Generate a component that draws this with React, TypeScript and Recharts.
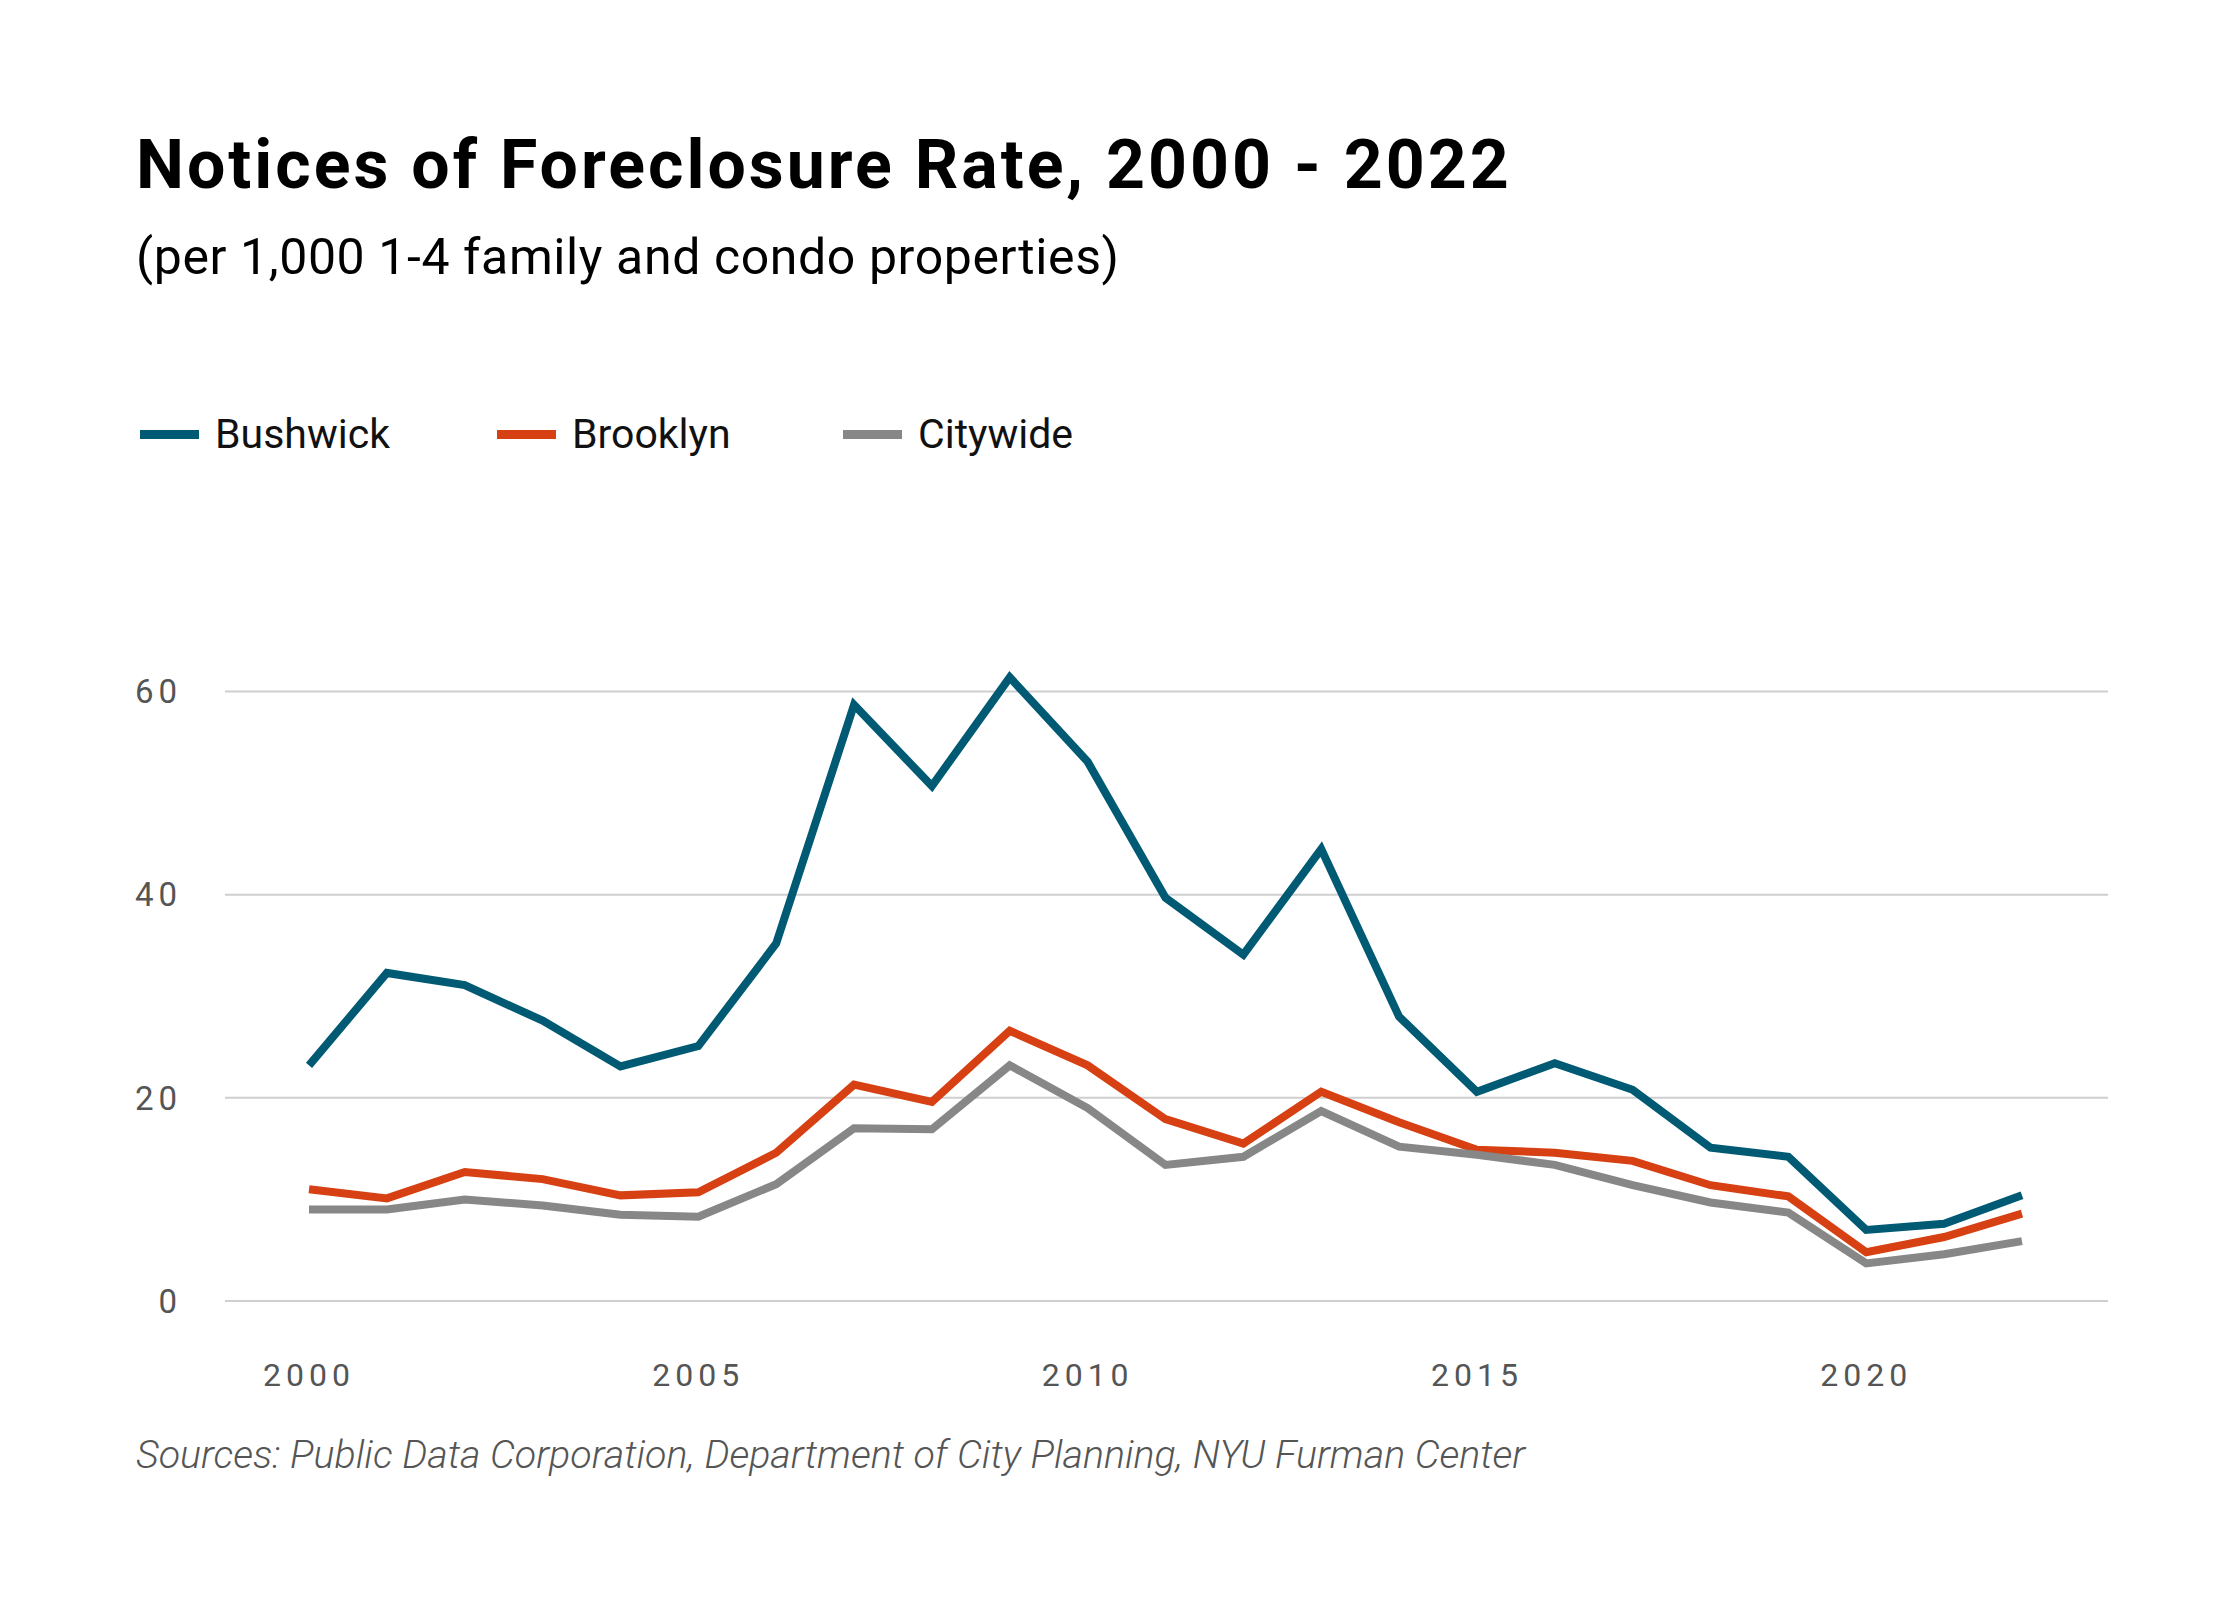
import { LineChart, Line, XAxis, YAxis, CartesianGrid } from "recharts";

const years = [
  2000, 2001, 2002, 2003, 2004, 2005, 2006, 2007, 2008, 2009, 2010, 2011,
  2012, 2013, 2014, 2015, 2016, 2017, 2018, 2019, 2020, 2021, 2022,
];
const bushwick = [
  23.2, 32.3, 31.1, 27.6, 23.1, 25.1, 35.2, 58.7, 50.7, 61.4, 53.1, 39.7,
  34.1, 44.5, 28.0, 20.6, 23.4, 20.8, 15.1, 14.2, 7.0, 7.6, 10.4,
];
const brooklyn = [
  11.0, 10.1, 12.7, 12.0, 10.4, 10.7, 14.6, 21.3, 19.6, 26.6, 23.2, 17.9,
  15.5, 20.6, 17.6, 14.9, 14.6, 13.8, 11.4, 10.3, 4.8, 6.3, 8.6,
];
const citywide = [
  9.0, 9.0, 10.0, 9.4, 8.5, 8.3, 11.5, 17.0, 16.9, 23.2, 19.0, 13.4,
  14.2, 18.7, 15.2, 14.4, 13.4, 11.4, 9.7, 8.7, 3.7, 4.6, 5.9,
];
const xTicks = [2000, 2005, 2010, 2015, 2020];
const yTicks = [0, 20, 40, 60];

const series = [
  { key: "bushwick", name: "Bushwick", color: "#005a73", left: 140 },
  { key: "brooklyn", name: "Brooklyn", color: "#d64012", left: 497 },
  { key: "citywide", name: "Citywide", color: "#878787", left: 843 },
];

const data = years.map((year, i) => ({
  year,
  bushwick: bushwick[i],
  brooklyn: brooklyn[i],
  citywide: citywide[i],
}));

const font = "Roboto, 'Noto Sans', sans-serif";

export default function App() {
  return (
    <div
      style={{
        position: "absolute",
        left: 0,
        top: 0,
        width: 2240,
        height: 1600,
        background: "#fff",
        fontFamily: font,
      }}
    >
      <div
        style={{
          position: "absolute",
          left: 136,
          top: 125,
          fontSize: 68,
          fontWeight: 700,
          letterSpacing: 3,
          color: "#000",
          whiteSpace: "nowrap",
        }}
      >
        Notices of Foreclosure Rate, 2000 - 2022
      </div>
      <div
        style={{
          position: "absolute",
          left: 136,
          top: 228,
          fontSize: 50,
          letterSpacing: 0.6,
          color: "#000",
          whiteSpace: "nowrap",
        }}
      >
        (per 1,000 1-4 family and condo properties)
      </div>
      {series.map((s) => (
        <div
          key={s.key}
          style={{
            position: "absolute",
            left: s.left,
            top: 407,
            height: 54,
            display: "flex",
            alignItems: "center",
          }}
        >
          <div
            style={{ width: 59, height: 9, background: s.color, marginRight: 16 }}
          />
          <span style={{ fontSize: 41, color: "#111", whiteSpace: "nowrap" }}>
            {s.name}
          </span>
        </div>
      ))}
      <div style={{ position: "absolute", left: 0, top: 0 }}>
        <LineChart
          width={2240}
          height={1600}
          data={data}
          margin={{ top: 590, right: 132, bottom: 0, left: 0 }}
        >
          <CartesianGrid
            vertical={false}
            horizontalValues={yTicks}
            stroke="#cfcfcf"
            strokeWidth={2}
          />
          <XAxis
            dataKey="year"
            type="number"
            domain={[1998.921, 2023.105]}
            ticks={xTicks}
            axisLine={false}
            tickLine={false}
            tickSize={0}
            tickMargin={62}
            height={299}
            tick={{ fill: "#555", fontSize: 32, letterSpacing: 5 }}
          />
          <YAxis
            domain={[0, 70]}
            ticks={yTicks}
            axisLine={false}
            tickLine={false}
            tickSize={0}
            tickMargin={43}
            width={225}
            tick={{ fill: "#555", fontSize: 33, letterSpacing: 5 }}
          />
          {series.map((s) => (
            <Line
              key={s.key}
              dataKey={s.key}
              name={s.name}
              stroke={s.color}
              strokeWidth={8}
              dot={false}
              activeDot={false}
              isAnimationActive={false}
            />
          ))}
        </LineChart>
      </div>
      <div
        style={{
          position: "absolute",
          left: 136,
          top: 1431,
          fontSize: 39.4,
          fontStyle: "italic",
          fontWeight: 300,
          color: "#555",
          whiteSpace: "nowrap",
        }}
      >
        Sources: Public Data Corporation, Department of City Planning, NYU Furman Center
      </div>
    </div>
  );
}
